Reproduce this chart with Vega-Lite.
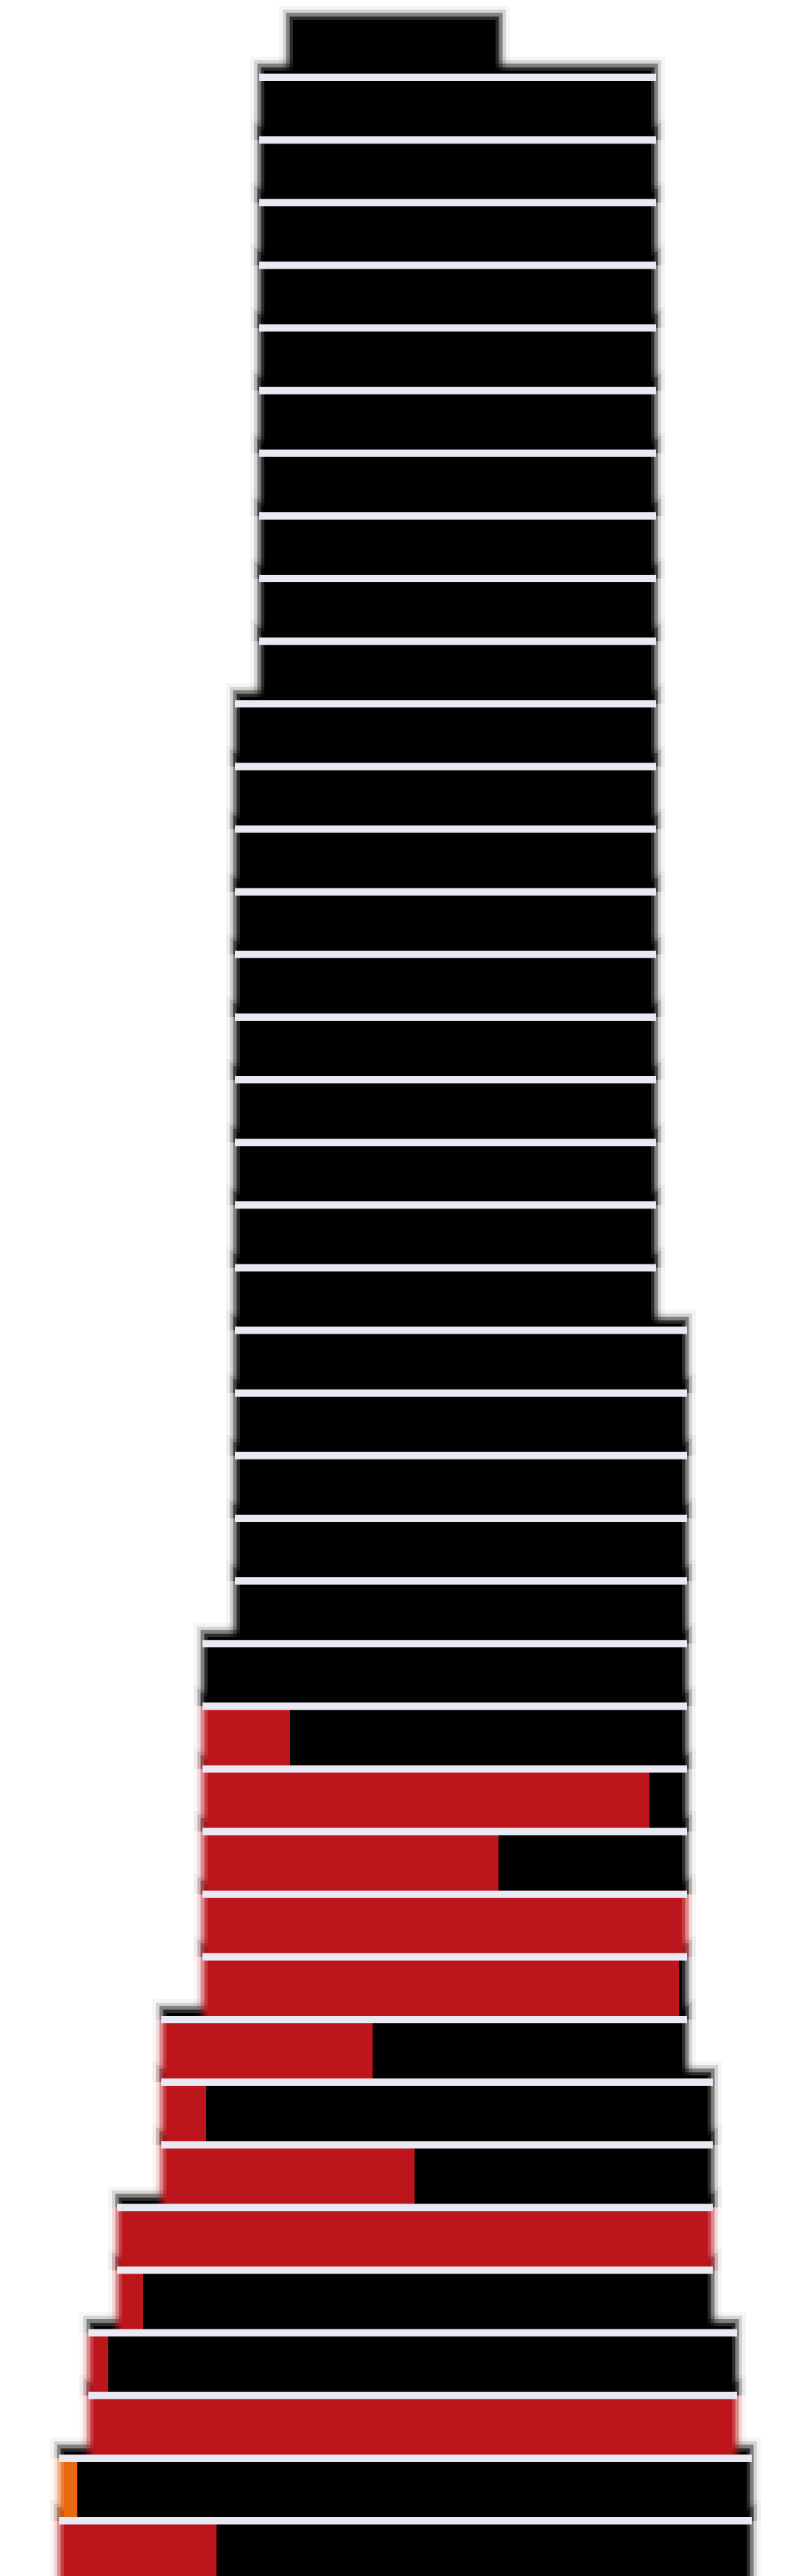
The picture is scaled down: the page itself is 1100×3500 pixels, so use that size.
{
  "$schema": "https://vega.github.io/schema/vega-lite/v6.json",
  "width": 1100,
  "height": 3500,
  "autosize": {"type": "none"},
  "padding": 0,
  "background": "white",
  "config": {"view": {"stroke": null}},
  "data": {"values": [
    {"floor": 1, "lo": 0, "hi": 1, "left": 80, "right": 1021, "dmg": 294, "state": "severe"},
    {"floor": 2, "lo": 1, "hi": 2, "left": 80, "right": 1021, "dmg": 105, "state": "partial"},
    {"floor": 3, "lo": 2, "hi": 3, "left": 120, "right": 1001, "dmg": 1001, "state": "severe"},
    {"floor": 4, "lo": 3, "hi": 4, "left": 120, "right": 1001, "dmg": 147, "state": "severe"},
    {"floor": 5, "lo": 4, "hi": 5, "left": 159, "right": 968, "dmg": 194, "state": "severe"},
    {"floor": 6, "lo": 5, "hi": 6, "left": 159, "right": 968, "dmg": 968, "state": "severe"},
    {"floor": 7, "lo": 6, "hi": 7, "left": 219, "right": 968, "dmg": 563, "state": "severe"},
    {"floor": 8, "lo": 7, "hi": 8, "left": 219, "right": 968, "dmg": 280, "state": "severe"},
    {"floor": 9, "lo": 8, "hi": 9, "left": 219, "right": 933, "dmg": 506, "state": "severe"},
    {"floor": 10, "lo": 9, "hi": 10, "left": 275, "right": 933, "dmg": 922, "state": "severe"},
    {"floor": 11, "lo": 10, "hi": 11, "left": 275, "right": 933, "dmg": 933, "state": "severe"},
    {"floor": 12, "lo": 11, "hi": 12, "left": 275, "right": 933, "dmg": 677, "state": "severe"},
    {"floor": 13, "lo": 12, "hi": 13, "left": 275, "right": 933, "dmg": 882, "state": "severe"},
    {"floor": 14, "lo": 13, "hi": 14, "left": 275, "right": 933, "dmg": 394, "state": "severe"},
    {"floor": 15, "lo": 14, "hi": 15, "left": 275, "right": 933},
    {"floor": 16, "lo": 15, "hi": 16, "left": 319, "right": 933},
    {"floor": 17, "lo": 16, "hi": 17, "left": 319, "right": 933},
    {"floor": 18, "lo": 17, "hi": 18, "left": 319, "right": 933},
    {"floor": 19, "lo": 18, "hi": 19, "left": 319, "right": 933},
    {"floor": 20, "lo": 19, "hi": 20, "left": 319, "right": 933},
    {"floor": 21, "lo": 20, "hi": 21, "left": 319, "right": 891},
    {"floor": 22, "lo": 21, "hi": 22, "left": 319, "right": 891},
    {"floor": 23, "lo": 22, "hi": 23, "left": 319, "right": 891},
    {"floor": 24, "lo": 23, "hi": 24, "left": 319, "right": 891},
    {"floor": 25, "lo": 24, "hi": 25, "left": 319, "right": 891},
    {"floor": 26, "lo": 25, "hi": 26, "left": 319, "right": 891},
    {"floor": 27, "lo": 26, "hi": 27, "left": 319, "right": 891},
    {"floor": 28, "lo": 27, "hi": 28, "left": 319, "right": 891},
    {"floor": 29, "lo": 28, "hi": 29, "left": 319, "right": 891},
    {"floor": 30, "lo": 29, "hi": 30, "left": 319, "right": 891},
    {"floor": 31, "lo": 30, "hi": 31, "left": 352, "right": 891},
    {"floor": 32, "lo": 31, "hi": 32, "left": 352, "right": 891},
    {"floor": 33, "lo": 32, "hi": 33, "left": 352, "right": 891},
    {"floor": 34, "lo": 33, "hi": 34, "left": 352, "right": 891},
    {"floor": 35, "lo": 34, "hi": 35, "left": 352, "right": 891},
    {"floor": 36, "lo": 35, "hi": 36, "left": 352, "right": 891},
    {"floor": 37, "lo": 36, "hi": 37, "left": 352, "right": 891},
    {"floor": 38, "lo": 37, "hi": 38, "left": 352, "right": 891},
    {"floor": 39, "lo": 38, "hi": 39, "left": 352, "right": 891},
    {"floor": 40, "lo": 39, "hi": 40, "left": 352, "right": 891},
    {"floor": 41, "lo": 40, "hi": 41, "left": 391, "right": 680}
  ]},
  "encoding": {
    "y": {"field": "lo", "type": "quantitative", "scale": {"domain": [0.119, 41.234], "nice": false, "zero": false}, "axis": null},
    "x": {"field": "left", "type": "quantitative", "scale": {"domain": [0, 1100], "nice": false, "zero": false}, "axis": null}
  },
  "layer": [
    {"transform": [{"filter": "datum.floor < 41"}], "mark": {"type": "rect", "color": "#000", "opacity": 0.04, "xOffset": -12, "x2Offset": 12, "y2Offset": -28}, "encoding": {"x2": {"field": "right"}, "y": {"field": "hi", "type": "quantitative"}, "y2": {"field": "hi"}}},
    {"transform": [{"filter": "datum.floor < 41"}], "mark": {"type": "rect", "color": "#000", "opacity": 0.135, "xOffset": -7, "x2Offset": 7, "y2Offset": -23}, "encoding": {"x2": {"field": "right"}, "y": {"field": "hi", "type": "quantitative"}, "y2": {"field": "hi"}}},
    {"transform": [{"filter": "datum.floor < 41"}], "mark": {"type": "rect", "color": "#000", "opacity": 0.398, "xOffset": -2.5, "x2Offset": 2.5, "y2Offset": -18.5}, "encoding": {"x2": {"field": "right"}, "y": {"field": "hi", "type": "quantitative"}, "y2": {"field": "hi"}}},
    {"transform": [{"filter": "datum.floor < 41"}], "mark": {"type": "rect", "color": "#000", "opacity": 0.66, "xOffset": 2.5, "x2Offset": -2.5, "y2Offset": -13.5}, "encoding": {"x2": {"field": "right"}, "y": {"field": "hi", "type": "quantitative"}, "y2": {"field": "hi"}}},
    {"transform": [{"filter": "datum.floor < 41"}], "mark": {"type": "rect", "color": "#000", "opacity": 1, "xOffset": 7, "x2Offset": -7, "y2Offset": -9}, "encoding": {"x2": {"field": "right"}, "y": {"field": "hi", "type": "quantitative"}, "y2": {"field": "hi"}}},

    {"transform": [{"filter": "datum.floor == 41"}], "mark": {"type": "rect", "color": "#000", "opacity": 0.04, "xOffset": -12, "x2Offset": 12, "y2Offset": -12}, "encoding": {"x2": {"field": "right"}, "y2": {"field": "hi"}}},
    {"transform": [{"filter": "datum.floor == 41"}], "mark": {"type": "rect", "color": "#000", "opacity": 0.135, "xOffset": -7, "x2Offset": 7, "y2Offset": -7}, "encoding": {"x2": {"field": "right"}, "y2": {"field": "hi"}}},
    {"transform": [{"filter": "datum.floor == 41"}], "mark": {"type": "rect", "color": "#000", "opacity": 0.398, "xOffset": -2.5, "x2Offset": 2.5, "y2Offset": -2.5}, "encoding": {"x2": {"field": "right"}, "y2": {"field": "hi"}}},
    {"transform": [{"filter": "datum.floor == 41"}], "mark": {"type": "rect", "color": "#000", "opacity": 0.66, "xOffset": 2.5, "x2Offset": -2.5, "y2Offset": 2.5}, "encoding": {"x2": {"field": "right"}, "y2": {"field": "hi"}}},
    {"transform": [{"filter": "datum.floor == 41"}], "mark": {"type": "rect", "color": "#000", "opacity": 1, "xOffset": 7, "x2Offset": -7, "y2Offset": 7}, "encoding": {"x2": {"field": "right"}, "y2": {"field": "hi"}}},

    {"transform": [{"filter": "!isValid(datum.dmg) && datum.floor < 41"}], "mark": {"type": "rect", "color": "#000", "opacity": 0.04, "xOffset": -12, "x2Offset": 12}, "encoding": {"x2": {"field": "right"}, "y2": {"field": "hi"}}},
    {"transform": [{"filter": "!isValid(datum.dmg) && datum.floor < 41"}], "mark": {"type": "rect", "color": "#000", "opacity": 0.135, "xOffset": -7, "x2Offset": 7}, "encoding": {"x2": {"field": "right"}, "y2": {"field": "hi"}}},
    {"transform": [{"filter": "!isValid(datum.dmg) && datum.floor < 41"}], "mark": {"type": "rect", "color": "#000", "opacity": 0.398, "xOffset": -2.5, "x2Offset": 2.5}, "encoding": {"x2": {"field": "right"}, "y2": {"field": "hi"}}},
    {"transform": [{"filter": "!isValid(datum.dmg) && datum.floor < 41"}], "mark": {"type": "rect", "color": "#000", "opacity": 0.66, "xOffset": 2.5, "x2Offset": -2.5}, "encoding": {"x2": {"field": "right"}, "y2": {"field": "hi"}}},
    {"transform": [{"filter": "!isValid(datum.dmg) && datum.floor < 41"}], "mark": {"type": "rect", "color": "#000", "opacity": 1, "xOffset": 7, "x2Offset": -7}, "encoding": {"x2": {"field": "right"}, "y2": {"field": "hi"}}},

    {"transform": [{"filter": "isValid(datum.dmg) && datum.dmg < datum.right"}], "mark": {"type": "rect", "color": "#000", "opacity": 0.04, "x2Offset": 12}, "encoding": {"x": {"field": "dmg", "type": "quantitative"}, "x2": {"field": "right"}, "y2": {"field": "hi"}}},
    {"transform": [{"filter": "isValid(datum.dmg) && datum.dmg < datum.right"}], "mark": {"type": "rect", "color": "#000", "opacity": 0.135, "x2Offset": 7}, "encoding": {"x": {"field": "dmg", "type": "quantitative"}, "x2": {"field": "right"}, "y2": {"field": "hi"}}},
    {"transform": [{"filter": "isValid(datum.dmg) && datum.dmg < datum.right"}], "mark": {"type": "rect", "color": "#000", "opacity": 0.398, "x2Offset": 2.5}, "encoding": {"x": {"field": "dmg", "type": "quantitative"}, "x2": {"field": "right"}, "y2": {"field": "hi"}}},
    {"transform": [{"filter": "isValid(datum.dmg) && datum.dmg < datum.right"}], "mark": {"type": "rect", "color": "#000", "opacity": 0.66, "x2Offset": -2.5}, "encoding": {"x": {"field": "dmg", "type": "quantitative"}, "x2": {"field": "right"}, "y2": {"field": "hi"}}},
    {"transform": [{"filter": "isValid(datum.dmg) && datum.dmg < datum.right"}], "mark": {"type": "rect", "color": "#000", "opacity": 1, "x2Offset": -7}, "encoding": {"x": {"field": "dmg", "type": "quantitative"}, "x2": {"field": "right"}, "y2": {"field": "hi"}}},

    {"transform": [{"filter": "isValid(datum.dmg) && datum.dmg < datum.right"}], "mark": {"type": "rect", "opacity": 0.04, "xOffset": -12}, "encoding": {"x2": {"field": "dmg"}, "y2": {"field": "hi"}, "color": {"field": "state", "type": "nominal", "scale": {"domain": ["severe", "partial"], "range": ["#bc151c", "#e8690f"]}, "legend": null}}},
    {"transform": [{"filter": "isValid(datum.dmg) && datum.dmg < datum.right"}], "mark": {"type": "rect", "opacity": 0.135, "xOffset": -7}, "encoding": {"x2": {"field": "dmg"}, "y2": {"field": "hi"}, "color": {"field": "state", "type": "nominal", "scale": {"domain": ["severe", "partial"], "range": ["#bc151c", "#e8690f"]}, "legend": null}}},
    {"transform": [{"filter": "isValid(datum.dmg) && datum.dmg < datum.right"}], "mark": {"type": "rect", "opacity": 0.398, "xOffset": -2.5}, "encoding": {"x2": {"field": "dmg"}, "y2": {"field": "hi"}, "color": {"field": "state", "type": "nominal", "scale": {"domain": ["severe", "partial"], "range": ["#bc151c", "#e8690f"]}, "legend": null}}},
    {"transform": [{"filter": "isValid(datum.dmg) && datum.dmg < datum.right"}], "mark": {"type": "rect", "opacity": 0.66, "xOffset": 2.5}, "encoding": {"x2": {"field": "dmg"}, "y2": {"field": "hi"}, "color": {"field": "state", "type": "nominal", "scale": {"domain": ["severe", "partial"], "range": ["#bc151c", "#e8690f"]}, "legend": null}}},
    {"transform": [{"filter": "isValid(datum.dmg) && datum.dmg < datum.right"}], "mark": {"type": "rect", "opacity": 1, "xOffset": 7}, "encoding": {"x2": {"field": "dmg"}, "y2": {"field": "hi"}, "color": {"field": "state", "type": "nominal", "scale": {"domain": ["severe", "partial"], "range": ["#bc151c", "#e8690f"]}, "legend": null}}},

    {"transform": [{"filter": "isValid(datum.dmg) && datum.dmg >= datum.right"}], "mark": {"type": "rect", "opacity": 0.04, "xOffset": -12, "x2Offset": 12}, "encoding": {"x2": {"field": "right"}, "y2": {"field": "hi"}, "color": {"field": "state", "type": "nominal", "scale": {"domain": ["severe", "partial"], "range": ["#bc151c", "#e8690f"]}, "legend": null}}},
    {"transform": [{"filter": "isValid(datum.dmg) && datum.dmg >= datum.right"}], "mark": {"type": "rect", "opacity": 0.135, "xOffset": -7, "x2Offset": 7}, "encoding": {"x2": {"field": "right"}, "y2": {"field": "hi"}, "color": {"field": "state", "type": "nominal", "scale": {"domain": ["severe", "partial"], "range": ["#bc151c", "#e8690f"]}, "legend": null}}},
    {"transform": [{"filter": "isValid(datum.dmg) && datum.dmg >= datum.right"}], "mark": {"type": "rect", "opacity": 0.398, "xOffset": -2.5, "x2Offset": 2.5}, "encoding": {"x2": {"field": "right"}, "y2": {"field": "hi"}, "color": {"field": "state", "type": "nominal", "scale": {"domain": ["severe", "partial"], "range": ["#bc151c", "#e8690f"]}, "legend": null}}},
    {"transform": [{"filter": "isValid(datum.dmg) && datum.dmg >= datum.right"}], "mark": {"type": "rect", "opacity": 0.66, "xOffset": 2.5, "x2Offset": -2.5}, "encoding": {"x2": {"field": "right"}, "y2": {"field": "hi"}, "color": {"field": "state", "type": "nominal", "scale": {"domain": ["severe", "partial"], "range": ["#bc151c", "#e8690f"]}, "legend": null}}},
    {"transform": [{"filter": "isValid(datum.dmg) && datum.dmg >= datum.right"}], "mark": {"type": "rect", "opacity": 1, "xOffset": 7, "x2Offset": -7}, "encoding": {"x2": {"field": "right"}, "y2": {"field": "hi"}, "color": {"field": "state", "type": "nominal", "scale": {"domain": ["severe", "partial"], "range": ["#bc151c", "#e8690f"]}, "legend": null}}},

    {
      "transform": [{"filter": "datum.floor < 41"}],
      "mark": {"type": "rule", "color": "#e9e9f3", "strokeWidth": 10},
      "encoding": {"y": {"field": "hi", "type": "quantitative"}, "x2": {"field": "right"}}
    }
  ]
}
